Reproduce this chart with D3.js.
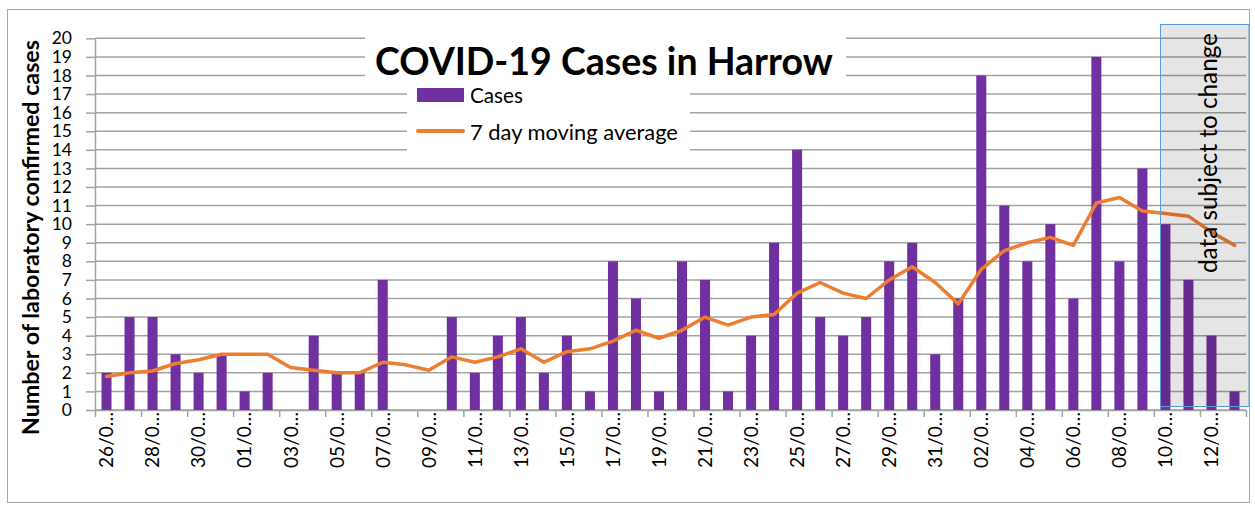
<!DOCTYPE html>
<html>
<head>
<meta charset="utf-8">
<script src="https://cdn.jsdelivr.net/npm/d3@7/dist/d3.min.js"></script>
<style>
  html, body { margin: 0; padding: 0; background: #fff; }
  svg { display: block; font-family: Lato, "Open Sans", sans-serif; }
</style>
</head>
<body>
<svg id="chart" width="1255" height="506"></svg>
<script>
// ---- data ----
const dates = [
  "26/07/2020","27/07/2020","28/07/2020","29/07/2020","30/07/2020","31/07/2020",
  "01/08/2020","02/08/2020","03/08/2020","04/08/2020","05/08/2020","06/08/2020","07/08/2020",
  "08/08/2020","09/08/2020","10/08/2020","11/08/2020","12/08/2020","13/08/2020","14/08/2020",
  "15/08/2020","16/08/2020","17/08/2020","18/08/2020","19/08/2020","20/08/2020","21/08/2020",
  "22/08/2020","23/08/2020","24/08/2020","25/08/2020","26/08/2020","27/08/2020","28/08/2020",
  "29/08/2020","30/08/2020","31/08/2020","01/09/2020","02/09/2020","03/09/2020","04/09/2020",
  "05/09/2020","06/09/2020","07/09/2020","08/09/2020","09/09/2020","10/09/2020","11/09/2020",
  "12/09/2020","13/09/2020"
];
const cases = [2,5,5,3,2,3,1,2,0,4,2,2,7,0,0,5,2,4,5,2,4,1,8,6,1,8,7,1,4,9,
               14,5,4,5,8,9,3,6,18,11,8,10,6,19,8,13,10,7,4,1];
const movingAvg = [1.8,2.0,2.1,2.5,2.7,3.0,3.0,3.0,2.29,2.14,2.0,2.0,2.57,2.43,2.14,2.86,
                   2.57,2.86,3.29,2.57,3.14,3.29,3.71,4.29,3.86,4.29,5.0,4.57,5.0,5.14,
                   6.29,6.86,6.29,6.0,7.0,7.71,6.86,5.71,7.57,8.57,9.0,9.29,8.86,11.14,
                   11.43,10.71,10.57,10.43,9.57,8.86];
const yTicks = d3.range(0, 21, 1);
const boundaryTicks = d3.range(0, 51, 2);
const provisionalFrom = "10/09/2020";
const title = "COVID-19 Cases in Harrow";
const yTitle = "Number of laboratory confirmed cases";
const seriesNames = ["Cases", "7 day moving average"];
const noteText = "data subject to change";

// ---- layout ----
const svg = d3.select("#chart");
const plotL = 95, plotR = 1246, plotT = 38.3, plotB = 410;
const purple = "#7030a0", orange = "#ed7d31", grid = "#a3a3a3";

function fit(sel, width) {
  const node = sel.node();
  const fs = parseFloat(sel.attr("font-size"));
  const w = node.getComputedTextLength();
  sel.attr("font-size", (fs * width / w).toFixed(2));
  return sel;
}

// outer border
svg.append("rect").attr("x", 7.5).attr("y", 9.5).attr("width", 1242).attr("height", 493)
  .attr("fill", "#fff").attr("stroke", "#a6a6a6").attr("stroke-width", 1);

const x = d3.scaleBand().domain(dates).range([plotL, plotR]).paddingInner(0.565).paddingOuter(0.2825);
const xIdx = d3.scaleLinear().domain([0, dates.length]).range([plotL, plotR]);
const y = d3.scaleLinear().domain([0, 20]).range([plotB, plotT]);

// gridlines
svg.append("g").attr("class", "grid")
  .selectAll("line").data(yTicks).join("line")
  .attr("x1", plotL).attr("x2", plotR)
  .attr("y1", d => y(d)).attr("y2", d => y(d))
  .attr("stroke", grid).attr("stroke-width", 1.5);

// y axis
const yAxis = svg.append("g").attr("transform", `translate(${plotL},0)`)
  .call(d3.axisLeft(y).tickValues(yTicks).tickSize(9).tickPadding(14).tickSizeOuter(0));
yAxis.select(".domain").attr("stroke", grid).attr("stroke-width", 1.5);
yAxis.selectAll(".tick line").attr("stroke", grid).attr("stroke-width", 1.5);
yAxis.selectAll(".tick text").attr("font-size", 17.5).attr("fill", "#000")
  .attr("font-family", "Lato, sans-serif");

// x axis ticks (at category boundaries every 2 days)
const xTickAxis = svg.append("g").attr("transform", `translate(0,${plotB})`)
  .call(d3.axisBottom(xIdx).tickValues(boundaryTicks).tickSize(7).tickFormat("").tickSizeOuter(0));
xTickAxis.select(".domain").attr("stroke", grid).attr("stroke-width", 1.5);
xTickAxis.selectAll(".tick line").attr("stroke", grid).attr("stroke-width", 1.5);

// x labels
const xLab = svg.append("g").attr("transform", `translate(0,${plotB})`)
  .call(d3.axisBottom(x).tickValues(dates.filter((d, i) => i % 2 === 0))
        .tickSize(0).tickFormat(d => d.slice(0, 4) + "\u2026"));
xLab.select(".domain").remove();
xLab.selectAll(".tick text")
  .attr("transform", "rotate(-90)")
  .attr("text-anchor", "end")
  .attr("x", -2).attr("y", 0).attr("dy", "0.36em")
  .attr("font-size", 19).attr("fill", "#000")
  .attr("font-family", "Lato, sans-serif");

// bars
svg.append("g").selectAll("rect").data(cases).join("rect")
  .attr("x", (d, i) => x(dates[i]))
  .attr("width", x.bandwidth())
  .attr("y", d => y(d))
  .attr("height", d => y(0) - y(d))
  .attr("fill", purple);

// moving average line
const line = d3.line().x((d, i) => x(dates[i]) + x.bandwidth() / 2).y(d => y(d));
svg.append("path").datum(movingAvg).attr("d", line)
  .attr("fill", "none").attr("stroke", orange).attr("stroke-width", 3.5)
  .attr("stroke-linejoin", "round").attr("stroke-linecap", "round");

// provisional data overlay
const bx = Math.round(x(provisionalFrom)) + 0.5;
svg.append("rect").attr("x", bx).attr("y", 24.5)
  .attr("width", 1249 - bx).attr("height", 382)
  .attr("fill", "rgba(0,0,0,0.1)").attr("stroke", "#5b9bd5").attr("stroke-width", 1);
const note = svg.append("text").attr("transform", "translate(1207,273) rotate(-90)")
  .attr("text-anchor", "start").attr("dominant-baseline", "central")
  .attr("font-size", 20).attr("fill", "#000").text(noteText);
fit(note, 240);

// title
svg.append("rect").attr("x", 365).attr("y", 30).attr("width", 481).attr("height", 54).attr("fill", "#fff");
const t = svg.append("text").attr("x", 375).attr("y", 75)
  .attr("font-size", 36).attr("font-weight", "bold").attr("fill", "#000").text(title);
fit(t, 458);

// legend
svg.append("rect").attr("x", 407).attr("y", 85).attr("width", 283).attr("height", 70).attr("fill", "#fff");
svg.append("rect").attr("x", 417).attr("y", 88).attr("width", 47).attr("height", 14).attr("fill", purple);
svg.append("line").attr("x1", 418).attr("x2", 463).attr("y1", 131).attr("y2", 131)
  .attr("stroke", orange).attr("stroke-width", 4).attr("stroke-linecap", "round");
const l1 = svg.append("text").attr("x", 470).attr("y", 95).attr("dominant-baseline", "central")
  .attr("font-size", 18).attr("fill", "#000").text(seriesNames[0]);
fit(l1, 53);
const l2 = svg.append("text").attr("x", 470).attr("y", 131).attr("dominant-baseline", "central")
  .attr("font-size", 18).attr("fill", "#000").text(seriesNames[1]);
fit(l2, 208);

// y title
const yt = svg.append("text").attr("transform", "translate(30,237.5) rotate(-90)")
  .attr("text-anchor", "middle").attr("dominant-baseline", "central")
  .attr("font-size", 18).attr("font-weight", "bold").attr("fill", "#000").text(yTitle);
fit(yt, 395);
</script>
</body>
</html>
